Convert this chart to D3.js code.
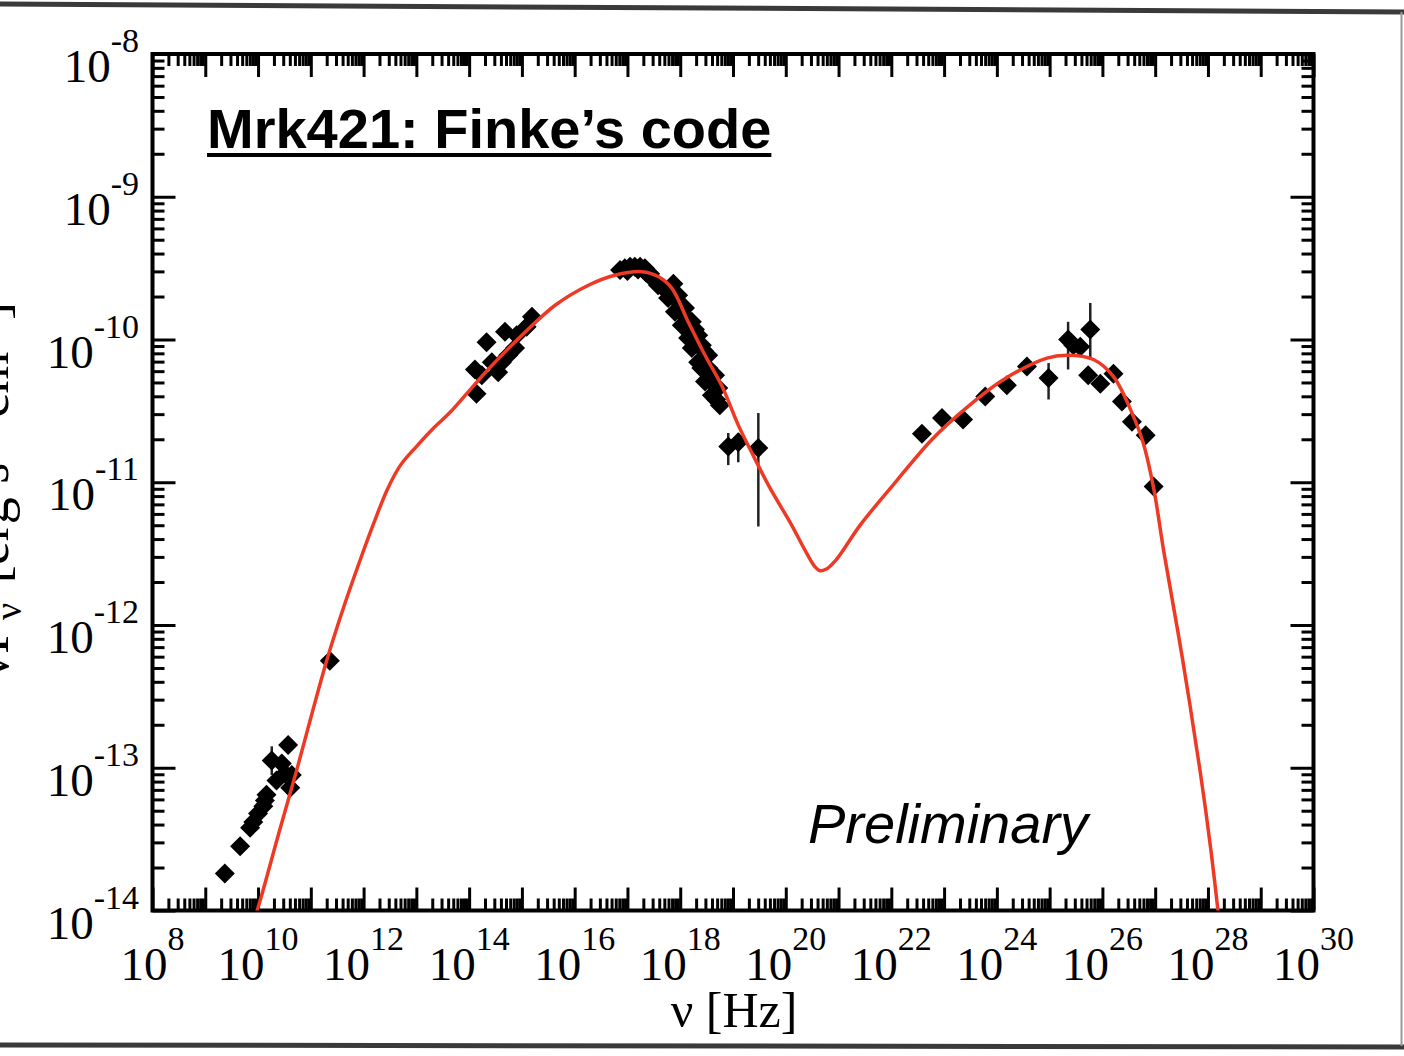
<!DOCTYPE html>
<html>
<head>
<meta charset="utf-8">
<script src="https://cdn.jsdelivr.net/npm/d3@7"></script>
<style>
  html, body { margin: 0; padding: 0; background: #fff; }
  svg { display: block; }
</style>
</head>
<body>
<svg id="chart" width="1404" height="1056"></svg>
<script>
// Mrk 421 spectral energy distribution, nu F_nu versus nu (log10 values)

// Radio / mm points
const radioNu = [9.37, 9.66, 9.85, 9.91, 10.0, 10.10, 10.13, 10.16, 10.26, 10.35, 10.45, 10.51, 10.57, 10.64, 10.61, 11.36];
const radioF  = [-13.74, -13.55, -13.42, -13.38, -13.32, -13.27, -13.23, -13.19, -12.95, -13.09, -12.97, -13.04, -12.84, -13.05, -13.14, -12.25];

// Infrared / optical / UV points
const opticalNu = [14.14, 14.11, 14.24, 14.33, 14.43, 14.55, 14.62, 14.68, 14.74, 14.87, 14.90, 15.09, 15.19];
const opticalF  = [-10.38, -10.21, -10.25, -10.02, -10.16, -10.23, -10.16, -9.945, -10.11, -10.06, -9.97, -9.91, -9.84];

// Soft X-ray points
const xrayNu = [16.86, 16.95, 17.0, 17.05, 17.14, 17.2, 17.24, 17.33, 17.35, 17.43, 17.49, 17.58, 17.68, 17.77, 17.8, 17.87,
                17.90, 17.96, 18.0, 18.03, 18.09, 18.12, 18.15, 18.22, 18.22, 18.28, 18.34, 18.34, 18.40, 18.41, 18.45,
                18.47, 18.53, 18.53, 18.6, 18.60, 18.66, 18.68, 18.72, 18.75];
const xrayF  = [-9.513, -9.50, -9.52, -9.49, -9.49, -9.51, -9.49, -9.50, -9.53, -9.54, -9.58, -9.62, -9.64, -9.71, -9.66, -9.61,
                -9.805, -9.69, -9.75, -9.90, -9.78, -9.85, -9.99, -9.875, -10.06, -9.93, -9.97, -10.16, -10.2, -10.04, -10.08,
                -10.295, -10.11, -10.20, -10.3, -10.39, -10.25, -10.42, -10.34, -10.46];

// Hard X-ray points
const hardNu = [18.91, 19.10, 19.48];
const hardF  = [-10.75, -10.72, -10.76];

// Gamma-ray points (Fermi-LAT and TeV)
const gammaNu = [22.58, 22.96, 23.36, 23.78, 24.19, 24.57, 24.98, 25.35, 25.45, 25.58, 25.77, 25.73, 25.96, 26.21, 26.37, 26.56, 26.82, 26.97];
const gammaF  = [-10.66, -10.55, -10.56, -10.40, -10.32, -10.19, -10.27, -10.00, -10.04, -10.05, -9.93, -10.25, -10.31, -10.24, -10.435, -10.576, -10.67, -11.03];

// Vertical error bars
const errNu = [10.26, 18.91, 19.10, 19.48, 24.98, 25.35, 25.77];
const errLo = [-13.05, -10.88, -10.86, -11.31, -10.42, -10.21, -10.14];
const errHi = [-12.85, -10.655, -10.655, -10.515, -10.165, -9.876, -9.744];

// Synchrotron + SSC model curve
const modelNu = [9.9, 10.04, 10.4, 10.73, 11.0, 11.30, 11.6, 11.93, 12.2, 12.45, 12.7, 13.0, 13.3, 13.64, 14.0, 14.36,
                 15.0, 15.63, 16.26, 16.76, 17.27, 17.59, 17.84, 18.15, 18.47, 18.79, 19.10, 19.38, 19.70, 20.08, 20.40,
                 20.55, 20.65, 20.76, 20.95, 21.41, 22.10, 22.77, 23.45, 24.13, 24.95, 25.33, 25.83, 26.21, 26.59, 26.77,
                 26.97, 27.17, 27.51, 27.85, 28.05, 28.25];
const modelF  = [-14.1, -13.93, -13.45, -13.02, -12.65, -12.25, -11.90, -11.55, -11.28, -11.05, -10.88, -10.75, -10.63, -10.51, -10.36, -10.21,
                 -9.97, -9.76, -9.62, -9.55, -9.525, -9.56, -9.64, -9.875, -10.11, -10.326, -10.60, -10.81, -11.04, -11.28, -11.50,
                 -11.59, -11.62, -11.61, -11.545, -11.30, -10.99, -10.70, -10.47, -10.28, -10.13, -10.11, -10.14, -10.26, -10.54, -10.72,
                 -11.04, -11.50, -12.22, -13.02, -13.56, -14.2];

// Axis decades
const xDecades = d3.range(8, 31);          // 10^8 ... 10^30
const xLabelDecades = d3.range(8, 31, 2);  // labelled every second decade
const yDecades = d3.range(-14, -7);        // 10^-14 ... 10^-8

const svg = d3.select("#chart");
const W = 1404, H = 1056;
const plotLeft = 152.5, plotRight = 1313.5, plotTop = 54, plotBottom = 910.5;

const x = d3.scaleLog().domain([1e8, 1e30]).range([plotLeft, plotRight]);
const y = d3.scaleLog().domain([1e-14, 1e-8]).range([plotBottom, plotTop]);
const p10 = e => Math.pow(10, e);

// page frame lines
svg.append("line").attr("x1", 0).attr("y1", 4).attr("x2", W).attr("y2", 12)
  .attr("stroke", "#3a3a3a").attr("stroke-width", 5);
svg.append("line").attr("x1", 0).attr("y1", 1045).attr("x2", W).attr("y2", 1047)
  .attr("stroke", "#3a3a3a").attr("stroke-width", 5);
svg.append("line").attr("x1", 1401.5).attr("y1", 12).attr("x2", 1401.5).attr("y2", 1046)
  .attr("stroke", "#9a9a9a").attr("stroke-width", 2);

// tick value lists
const xMajor = xDecades.map(p10);
const xMinor = [];
xDecades.slice(0, -1).forEach(e => { for (let k = 2; k <= 9; k++) xMinor.push(k * p10(e)); });
const yMajor = yDecades.map(p10);
const yMinor = [];
yDecades.slice(0, -1).forEach(e => { for (let k = 2; k <= 9; k++) yMinor.push(k * p10(e)); });

const axisStyle = g => {
  g.select(".domain").remove();
  g.selectAll("line").attr("stroke", "#000").attr("stroke-width", 3);
  g.selectAll("text").remove();
};

const MAJ = 23, MIN = 12;
svg.append("g").attr("transform", `translate(0,${plotBottom})`)
  .call(d3.axisBottom(x).tickValues(xMajor).tickSize(-MAJ)).call(axisStyle);
svg.append("g").attr("transform", `translate(0,${plotBottom})`)
  .call(d3.axisBottom(x).tickValues(xMinor).tickSize(-MIN)).call(axisStyle);
svg.append("g").attr("transform", `translate(0,${plotTop})`)
  .call(d3.axisTop(x).tickValues(xMajor).tickSize(-MAJ)).call(axisStyle);
svg.append("g").attr("transform", `translate(0,${plotTop})`)
  .call(d3.axisTop(x).tickValues(xMinor).tickSize(-MIN)).call(axisStyle);
svg.append("g").attr("transform", `translate(${plotLeft},0)`)
  .call(d3.axisLeft(y).tickValues(yMajor).tickSize(-MAJ)).call(axisStyle);
svg.append("g").attr("transform", `translate(${plotLeft},0)`)
  .call(d3.axisLeft(y).tickValues(yMinor).tickSize(-MIN)).call(axisStyle);
svg.append("g").attr("transform", `translate(${plotRight},0)`)
  .call(d3.axisRight(y).tickValues(yMajor).tickSize(-MAJ)).call(axisStyle);
svg.append("g").attr("transform", `translate(${plotRight},0)`)
  .call(d3.axisRight(y).tickValues(yMinor).tickSize(-MIN)).call(axisStyle);

// plot frame
svg.append("rect").attr("x", plotLeft).attr("y", plotTop)
  .attr("width", plotRight - plotLeft).attr("height", plotBottom - plotTop)
  .attr("fill", "none").attr("stroke", "#000").attr("stroke-width", 4);

// tick labels: 10 with superscript exponent
const serif = "'Liberation Serif', 'Times New Roman', serif";
const xLab = svg.append("g").attr("font-family", serif).attr("fill", "#000");
xLabelDecades.forEach(e => {
  const t = xLab.append("text").attr("x", x(p10(e))).attr("y", 980).attr("text-anchor", "middle");
  t.append("tspan").attr("font-size", 47).text("10");
  t.append("tspan").attr("font-size", 34).attr("dy", -30).text(String(e));
});
const yLab = svg.append("g").attr("font-family", serif).attr("fill", "#000");
yDecades.forEach(e => {
  const t = yLab.append("text").attr("x", 139).attr("y", y(p10(e)) + 28).attr("text-anchor", "end");
  t.append("tspan").attr("font-size", 47).text("10");
  t.append("tspan").attr("font-size", 34).attr("dy", -30).text(String(e));
});

// axis titles
svg.append("text").attr("x", 734).attr("y", 1027).attr("text-anchor", "middle")
  .attr("font-family", serif).attr("font-size", 50).text("ν [Hz]");

const yt = svg.append("text").attr("transform", "translate(8,302) rotate(-90)")
  .attr("text-anchor", "end").attr("font-family", serif).attr("font-size", 54);
yt.append("tspan").text("ν");
yt.append("tspan").text("F");
yt.append("tspan").attr("font-size", 38).attr("dy", 13).attr("dx", 4).text("ν");
yt.append("tspan").attr("dy", -13).attr("dx", 6).text(" [erg s");
yt.append("tspan").attr("font-size", 38).attr("dy", -22).text("-1");
yt.append("tspan").attr("dy", 22).text(" cm");
yt.append("tspan").attr("font-size", 38).attr("dy", -22).text("-2");
yt.append("tspan").attr("dy", 22).text("]");

// clip region for data and model
svg.append("clipPath").attr("id", "plotClip").append("rect")
  .attr("x", plotLeft).attr("y", plotTop).attr("width", plotRight - plotLeft).attr("height", plotBottom - plotTop);
const plot = svg.append("g").attr("clip-path", "url(#plotClip)");

// error bars
plot.append("g").selectAll("line").data(errNu).join("line")
  .attr("x1", (d) => x(p10(d))).attr("x2", (d) => x(p10(d)))
  .attr("y1", (d, i) => y(p10(errLo[i]))).attr("y2", (d, i) => y(p10(errHi[i])))
  .attr("stroke", "#222").attr("stroke-width", 2.5);

// data points as filled diamonds
const points = [];
[[radioNu, radioF], [opticalNu, opticalF], [xrayNu, xrayF], [hardNu, hardF], [gammaNu, gammaF]]
  .forEach(([nu, f]) => nu.forEach((v, i) => points.push([v, f[i]])));
const diamond = d3.symbol().type(d3.symbolSquare).size(200)();
plot.append("g").selectAll("path").data(points).join("path")
  .attr("d", diamond)
  .attr("transform", d => `translate(${x(p10(d[0]))},${y(p10(d[1]))}) rotate(45)`)
  .attr("fill", "#000");

// model curve
const line = d3.line()
  .x((d) => x(p10(d)))
  .y((d, i) => y(p10(modelF[i])))
  .curve(d3.curveCatmullRom.alpha(0.5));
plot.append("path").datum(modelNu).attr("d", line)
  .attr("fill", "none").attr("stroke", "#ee3a24").attr("stroke-width", 3.5);

// annotations
const sans = "'Liberation Sans', Arial, sans-serif";
const title = svg.append("text").attr("x", 207).attr("y", 148)
  .attr("font-family", sans).attr("font-weight", "bold").attr("font-size", 56)
  .text("Mrk421: Finke’s code");
const tb = title.node().getBBox();
svg.append("line").attr("x1", tb.x).attr("x2", tb.x + tb.width).attr("y1", 155).attr("y2", 155)
  .attr("stroke", "#000").attr("stroke-width", 4);

svg.append("text").attr("x", 808).attr("y", 843)
  .attr("font-family", sans).attr("font-style", "italic").attr("font-size", 56)
  .text("Preliminary");
</script>
</body>
</html>
